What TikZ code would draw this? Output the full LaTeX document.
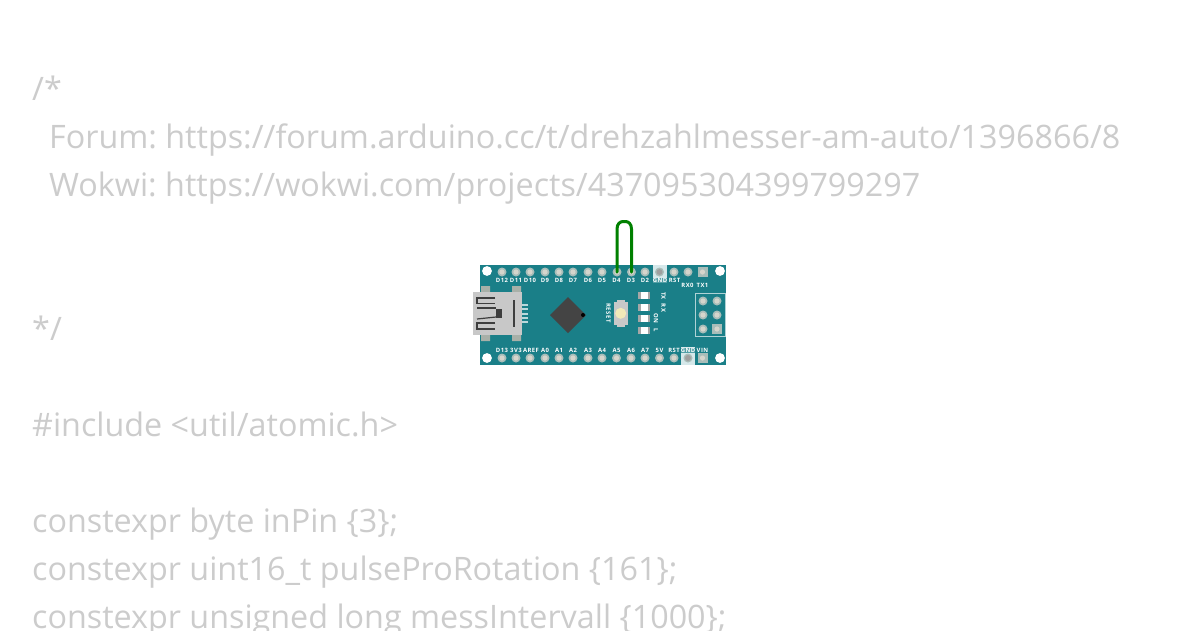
\documentclass[tikz,border=0pt]{standalone}
\usepackage{fontspec}
\setmainfont{Open Sans}
\newfontfamily\silkfont[LetterSpace=8]{Open Sans}
\frenchspacing
\definecolor{codegray}{HTML}{CCCCCC}
\definecolor{boardteal}{HTML}{1A7F88}
\definecolor{pinring}{HTML}{A9BDB9}
\definecolor{pinhole}{HTML}{D5D5CC}
\definecolor{usbgray}{HTML}{C8C8C8}
\definecolor{usbtab}{HTML}{A8B0A8}
\definecolor{usbdark}{HTML}{3E3E3E}
\definecolor{chipgray}{HTML}{444444}
\definecolor{capcolor}{HTML}{F1E9B8}
\definecolor{wiregreen}{HTML}{008000}
\tikzset{x=1pt,y=-1pt,
 codeline/.style={anchor=base west,inner sep=0pt,text=codegray,font=\fontsize{32.3}{32.3}\selectfont},
 silk/.style={inner sep=0pt,text=white,font=\silkfont\bfseries\fontsize{5.9}{5.9}\selectfont},
 pinhead/.style={circle,fill=pinring,minimum size=9pt,inner sep=0pt},
 pinsquare/.style={rectangle,fill=pinring,minimum size=10pt,inner sep=0pt},
 wirepath/.style={draw=wiregreen,line width=3pt,line cap=round,line join=round},
 usbline/.style={draw=usbdark,line width=1.2pt}}
\newcommand{\pinhole}[1]{\fill[pinhole] (#1) circle (2.6pt);}
\begin{document}
\begin{tikzpicture}
\useasboundingbox (0,0) rectangle (1200,630);
\clip (0,0) rectangle (1200,630);
\fill[white] (0,0) rectangle (1200,630);
% code text
\node[codeline] (c1) at (32,100) {/*};
\node[codeline] (c2) at (49,148) {Forum: https://forum.arduino.cc/t/drehzahlmesser-am-auto/1396866/8};
\node[codeline] (c3) at (49,196) {Wokwi: https://wokwi.com/projects/437095304399799297};
\node[codeline] (c4) at (32,340) {*/};
\node[codeline] (c5) at (32,436) {\#include <util/atomic.h>};
\node[codeline] (c6) at (32,532) {constexpr byte inPin \{3\};};
\node[codeline] (c7) at (32,580) {constexpr uint16\_t pulseProRotation \{161\};};
\node[codeline] (c8) at (32,628) {constexpr unsigned long messIntervall \{1000\};};
% board
\fill[boardteal] (480,265) rectangle (726,365);
\foreach \p in {(487,271),(720,271),(487,358),(720,358)} \fill[white] \p circle (4.9pt);
% GND pads
\fill[white!82!boardteal] (653,265) rectangle (667,283);
\fill[white!82!boardteal] (681,347) rectangle (695,365);
% pins
\foreach \n/\x in {t1/502,t2/516,t3/530,t4/545,t5/559,t6/573,t7/588,t8/602,t9/617,t10/631.5,t11/645,t12/659.5,t13/674,t14/688} {
 \node[pinhead] (\n) at (\x,272) {}; \pinhole{\n}
}
\node[pinsquare] (t15) at (702.5,272) {}; \pinhole{t15}
\foreach \n/\x in {b1/502,b2/516,b3/530,b4/545,b5/559,b6/573,b7/588,b8/602,b9/616.5,b10/631,b11/645,b12/659.5,b13/674,b14/688} {
 \node[pinhead] (\n) at (\x,358) {}; \pinhole{\n}
}
\node[pinsquare] (b15) at (702.5,358) {}; \pinhole{b15}
% grey inner of GND pins
\fill[gray!75] (t12) circle (3pt) (b14) circle (3pt);
% labels top
\foreach \t/\x in {D12/502,D11/516,D10/530,D9/545,D8/559,D7/573,D6/588,D5/602,D4/616.5,D3/631,D2/645,RST/674.5} {
 \node[silk] (l\t) at (\x,280) {\t};
}
\fill[boardteal!75!white] (653,277.5) rectangle (667,282.5);
\node[silk] (lGNDt) at (660,280) {GND};
\node[silk] (lRX) at (687.5,285) {RX0};
\node[silk] (lTX) at (702.5,285) {TX1};
% labels bottom
\foreach \t/\x in {D13/502,3V3/516,AREF/531,A0/545,A1/559,A2/573,A3/588,A4/602,A5/616.5,A6/631,A7/645,5V/659.5,RST/674,VIN/702.5} {
 \node[silk] (m\t) at (\x,350) {\t};
}
\fill[boardteal!75!white] (681,347.5) rectangle (695,352.5);
\node[silk] (lGNDb) at (688,350) {GND};
% usb
\fill[usbtab] (481,286) rectangle (490,292) (512,286) rectangle (521,292) (481,335) rectangle (490,341) (512,335) rectangle (521,341);
\foreach \y in {305,309,313.5,318,322} \fill[white!70!boardteal] (522,\y-1) rectangle (528,\y+1);
\fill[usbgray] (473,292) rectangle (522,335);
\draw[usbline] (495,298) -- (477,298) -- (477,303.5) -- (495,303.5);
\draw[usbline] (477,308) -- (496,308);
\draw[usbline] (477,319) -- (496,317);
\draw[usbline] (495,323) -- (477,323) -- (477,329) -- (495,329);
\fill[usbdark] (496,309) rectangle (502,318);
\draw[usbdark,line width=1.5pt] (514,300) -- (514,327);
% chip
\fill[chipgray] (568,297) -- (586,315) -- (568,333) -- (550,315) -- cycle;
\fill[black] (583,315) circle (2pt);
% reset button
\fill[usbgray] (617,299.5) rectangle (624.5,327);
\fill[usbgray] (614,302) rectangle (628,325);
\fill[capcolor] (620.7,313.3) circle (5.5pt);
\node[silk,rotate=-90] (lreset) at (608.5,313) {RESET};
% leds
\foreach \y in {295.5,307,318,330} {
 \fill[gray!70] (638,\y-3.5) rectangle (650,\y+3.5);
 \fill[white] (640.5,\y-3.5) rectangle (647.5,\y+3.5);
}
\node[silk,rotate=-90] (ltx) at (663.5,296) {TX};
\node[silk,rotate=-90] (lrxb) at (663.5,308) {RX};
\node[silk,rotate=-90] (lon) at (656,318) {ON};
\node[silk,rotate=-90] (ll) at (656,330) {L};
% ICSP
\draw[white!65!boardteal,line width=.7pt] (695,293) rectangle (725,336);
\foreach \n/\x/\y in {i1/703/301,i2/717/301,i3/703/315,i4/717/315,i5/703/329} {
 \node[pinhead] (\n) at (\x,\y) {}; \pinhole{\n}
}
\node[pinsquare] (i6) at (717,329) {}; \pinhole{i6}
% wire
\draw[wirepath] (t9.center) -- (617,229) .. controls (617,224) and (620,221.5) .. (623,221.5) -- (625.5,221.5) .. controls (628.5,221.5) and (631.5,224) .. (631.5,229) -- (t10.center);
\end{tikzpicture}
\end{document}
